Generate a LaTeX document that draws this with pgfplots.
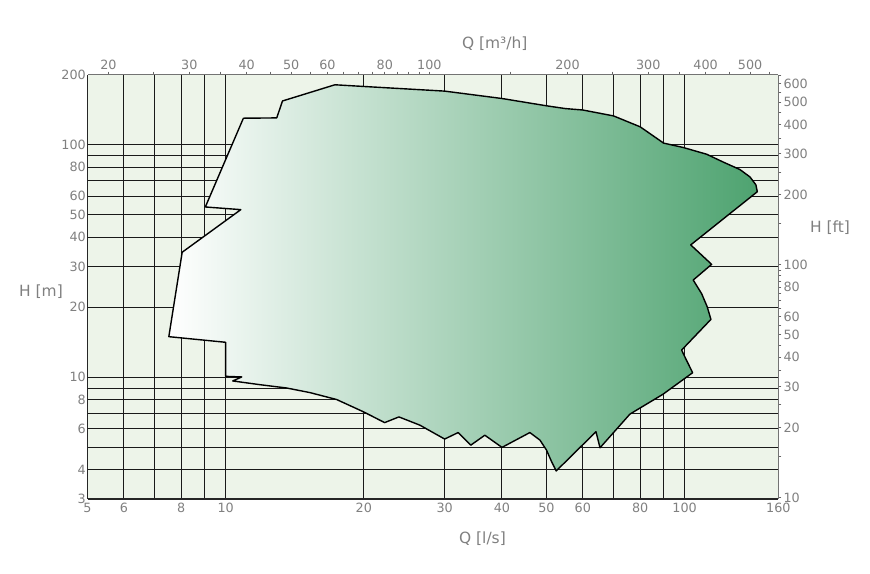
\documentclass[border=0pt]{standalone}
\usepackage{pgfplots}
\pgfplotsset{compat=1.18}
\usepackage{fontspec}
\setmainfont{DejaVu Sans}
\definecolor{bg}{HTML}{EDF4E9}
\definecolor{dg}{RGB}{78,163,112}
\definecolor{txt}{HTML}{808080}
\begin{document}
\begin{tikzpicture}
\path[use as bounding box] (0,0) rectangle (870bp,574bp);
\begin{axis}[
  at={(87.5bp,75bp)}, anchor=south west,
  scale only axis, width=690.8bp, height=424.3bp,
  xmode=log, ymode=log,
  xmin=5, xmax=160, ymin=3, ymax=200,
  axis background/.style={fill=bg},
  axis x line*=bottom, axis y line*=left,
  axis line style={black!85, line width=1.2bp},
  xtick={6,7,8,9,10,20,30,40,50,60,70,80,90,100},
  xticklabels={6,,8,,10,20,30,40,50,60,,80,,100},
  extra x ticks={5,160}, extra x tick labels={5,160},
  ytick={4,5,6,7,8,9,10,20,30,40,50,60,70,80,90,100},
  yticklabels={4,,6,,8,,10,20,30,40,50,60,,80,,100},
  extra y ticks={3,200}, extra y tick labels={3,200},
  extra tick style={grid=none},
  xmajorgrids, ymajorgrids,
  grid style={black!90, line width=1bp},
  major tick length=0pt, minor tick length=0pt,
  tick label style={font=\fontsize{12.8}{14}\selectfont, text=txt},
  xticklabel style={yshift=-1bp},
  yticklabel style={inner xsep=1.5bp},
  label style={font=\fontsize{15.5}{17}\selectfont, text=txt},
  xlabel={Q [l/s]},
  xlabel style={at={(axis description cs:0.5718,-0.0943)}, anchor=center},
  ylabel={H [m]},
  ylabel style={at={(axis description cs:-0.0673,0.488)}, anchor=center, rotate=-90},
]
\addplot[draw=black, line width=1.4bp, line join=round, left color=white, right color=dg] coordinates {
(17.3,181) (20,178) (30,170) (40,158) (50,147) (55,143) (60,141) (70,133)
(80,119.4) (90,101.6) (99.3,97.3) (111.7,91.0) (121.4,84.2) (132.0,78.2)
(138.8,72.7) (143.0,67.2) (144.0,62.8)
(103.1,37.1) (114.5,30.6) (104.4,26.2) (108.9,22.9) (112,20.1) (114.1,17.75)
(98.5,13.1) (100,12.3) (104.1,10.47) (89.7,8.46) (76,6.95)
(65.4,4.98) (64.1,5.84) (52.5,3.96) (51.3,4.34) (50.0,4.87) (48.4,5.37) (46.0,5.79)
(40,5.0) (36.7,5.64) (34.2,5.11) (32.1,5.79) (30,5.43) (26.5,6.23)
(23.85,6.76) (22.2,6.39) (20,7.1) (17.45,8.03) (15.26,8.6) (13.58,9.0) (11.88,9.3)
(10.36,9.65) (10.84,10.04) (10,10.1) (10,14.15) (7.52,14.96) (8.04,34.5)
(10.79,52.6) (9.03,54.0) (10.93,130) (12.92,130.4) (13.3,154.2)
} -- cycle;
\end{axis}
\begin{axis}[
  at={(87.5bp,75bp)}, anchor=south west,
  scale only axis, width=690.8bp, height=424.3bp,
  xmode=log, ymode=log,
  xmin=18, xmax=576, ymin=9.84252, ymax=656.168,
  axis x line*=top, axis y line*=right,
  axis line style={black!55, line width=1.2bp},
  tick align=outside, major tick length=3bp, minor tick length=0pt,
  tick style={black!60, line width=0.8bp},
  xtick={20,25,30,35,40,45,50,55,60,65,70,75,80,85,90,95,100,150,200,250,300,350,400,450,500,550},
  xticklabels={20,,30,,40,,50,,60,,,,80,,,,100,,200,,300,,400,,500,},
  ytick={10,15,20,25,30,35,40,45,50,55,60,65,70,75,80,85,90,95,100,150,200,250,300,350,400,450,500,550,600,650},
  yticklabels={10,,20,,30,,40,,50,,60,,,,80,,,,100,,200,,300,,400,,500,,600,},
  tick label style={font=\fontsize{12.8}{14}\selectfont, text=txt},
  xticklabel style={inner ysep=2bp},
  yticklabel style={inner xsep=2bp},
  label style={font=\fontsize{15.5}{17}\selectfont, text=txt},
  xlabel={Q [m³/h]},
  xlabel style={at={(axis description cs:0.5895,1.074)}, anchor=center},
  ylabel={H [ft]},
  ylabel style={at={(axis description cs:1.0748,0.639)}, anchor=center, rotate=-90},
]
\end{axis}
\end{tikzpicture}
\end{document}
